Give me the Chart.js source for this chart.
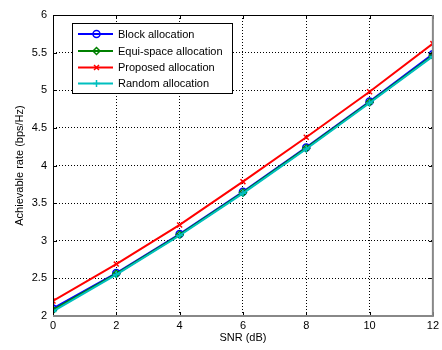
<!DOCTYPE html>
<html>
<head>
<meta charset="utf-8">
<script src="https://cdn.jsdelivr.net/npm/chart.js@4/dist/chart.umd.min.js"></script>
<style>
html,body{margin:0;padding:0;background:#fff;}
#wrap{width:442px;height:350px;position:relative;}
</style>
</head>
<body>
<div id="wrap"><canvas id="c" width="442" height="350"></canvas></div>
<script>
const snr = [0, 2, 4, 6, 8, 10, 12];
const blockAlloc = [2.10, 2.57, 3.09, 3.65, 4.24, 4.85, 5.48];
const equiAlloc = [2.08, 2.56, 3.08, 3.64, 4.23, 4.84, 5.46];
const proposedAlloc = [2.20, 2.69, 3.21, 3.785, 4.375, 4.98, 5.62];
const randomAlloc = [2.06, 2.55, 3.07, 3.63, 4.22, 4.83, 5.45];
const xTicks = [0, 2, 4, 6, 8, 10, 12];
const yTicks = [2, 2.5, 3, 3.5, 4, 4.5, 5, 5.5, 6];
const seriesLabels = ['Block allocation', 'Equi-space allocation', 'Proposed allocation', 'Random allocation'];

const FONT = "'Liberation Sans', Arial, sans-serif";
const toPts = arr => arr.map((v, i) => ({x: snr[i], y: v}));

const boxPlugin = {
  id: 'boxPlugin',
  afterDraw(chart) {
    const ctx = chart.ctx;
    const a = chart.chartArea;
    const xs = chart.scales.x, ys = chart.scales.y;
    ctx.save();
    // inward tick marks
    ctx.strokeStyle = '#000';
    ctx.lineWidth = 1;
    ctx.beginPath();
    xTicks.forEach(t => {
      const px = Math.round(xs.getPixelForValue(t)) + 0.5;
      ctx.moveTo(px, a.bottom); ctx.lineTo(px, a.bottom - 4);
      ctx.moveTo(px, a.top); ctx.lineTo(px, a.top + 4);
    });
    yTicks.forEach(t => {
      const py = Math.round(ys.getPixelForValue(t)) + 0.5;
      ctx.moveTo(a.left, py); ctx.lineTo(a.left + 4, py);
      ctx.moveTo(a.right, py); ctx.lineTo(a.right - 4, py);
    });
    ctx.stroke();
    // box
    ctx.strokeStyle = '#000';
    ctx.beginPath();
    ctx.moveTo(a.left + 0.5, a.bottom); ctx.lineTo(a.left + 0.5, a.top + 0.5); ctx.lineTo(a.right, a.top + 0.5);
    ctx.stroke();
    ctx.strokeStyle = '#888';
    ctx.lineWidth = 2;
    ctx.beginPath();
    ctx.moveTo(a.left, a.bottom); ctx.lineTo(a.right, a.bottom); ctx.lineTo(a.right, a.top);
    ctx.stroke();

    // legend
    const lx = 72, ly = 23, lw = 160, lh = 70;
    ctx.fillStyle = '#fff';
    ctx.fillRect(lx, ly, lw, lh);
    ctx.strokeStyle = '#000';
    ctx.lineWidth = 1;
    ctx.strokeRect(lx + 0.5, ly + 0.5, lw, lh);
    const rowY = [34, 51, 67.5, 83.5];
    chart.data.datasets.forEach((ds, i) => {
      const y = rowY[i];
      ctx.strokeStyle = ds.borderColor;
      ctx.lineWidth = 2;
      ctx.beginPath();
      ctx.moveTo(78, y); ctx.lineTo(113, y);
      ctx.stroke();
      ctx.strokeStyle = ds.borderColor;
      ctx.fillStyle = 'transparent';
      ctx.lineWidth = 1.5;
      Chart.helpers.drawPoint(ctx, {pointStyle: ds.pointStyle, radius: ds.pointRadius, borderWidth: 1.5}, 96.5, y);
      ctx.fillStyle = '#000';
      ctx.font = '11px ' + FONT;
      ctx.textBaseline = 'middle';
      ctx.textAlign = 'left';
      ctx.fillText(ds.label, 118, y + 0.5);
    });
    ctx.restore();
  }
};

function ds(label, data, color, style, order) {
  return {
    label, data: toPts(data), borderColor: color, backgroundColor: color,
    pointBackgroundColor: 'transparent', pointBorderColor: color,
    pointStyle: style, pointRadius: 3.5, pointBorderWidth: 1.5,
    borderWidth: 2, tension: 0, order
  };
}

new Chart(document.getElementById('c'), {
  type: 'line',
  data: {
    datasets: [
      ds(seriesLabels[0], blockAlloc, '#0000ff', 'circle', 3),
      ds(seriesLabels[1], equiAlloc, '#008000', 'rectRot', 2),
      ds(seriesLabels[2], proposedAlloc, '#ff0000', 'crossRot', 1),
      ds(seriesLabels[3], randomAlloc, '#00bfbf', 'cross', 0)
    ]
  },
  options: {
    responsive: false,
    animation: false,
    devicePixelRatio: 1,
    layout: {padding: {left: 0, top: 15, right: 7, bottom: 0}},
    plugins: {legend: {display: false}, tooltip: {enabled: false}},
    scales: {
      x: {
        type: 'linear', min: 0, max: 12,
        afterBuildTicks: s => { s.ticks = xTicks.map(v => ({value: v})); },
        afterFit: s => { s.height = 34; },
        grid: {color: '#000', lineWidth: 1, drawTicks: false, drawOnChartArea: true},
        border: {display: false, dash: [1, 2]},
        ticks: {color: '#000', font: {family: FONT, size: 11}, padding: 3, maxRotation: 0, callback: v => String(v)},
        title: {display: true, text: 'SNR (dB)', color: '#000', font: {family: FONT, size: 11}, padding: {top: 0, bottom: 5}}
      },
      y: {
        type: 'linear', min: 2, max: 6,
        afterBuildTicks: s => { s.ticks = yTicks.map(v => ({value: v})); },
        afterFit: s => { s.width = 53; },
        grid: {color: '#000', lineWidth: 1, drawTicks: false},
        border: {display: false, dash: [1, 2]},
        ticks: {color: '#000', font: {family: FONT, size: 11}, padding: 6, callback: v => String(v)},
        title: {display: true, text: 'Achievable rate (bps/Hz)', color: '#000', font: {family: FONT, size: 11}, padding: {top: 13, bottom: 0}}
      }
    }
  },
  plugins: [boxPlugin]
});
</script>
</body>
</html>
